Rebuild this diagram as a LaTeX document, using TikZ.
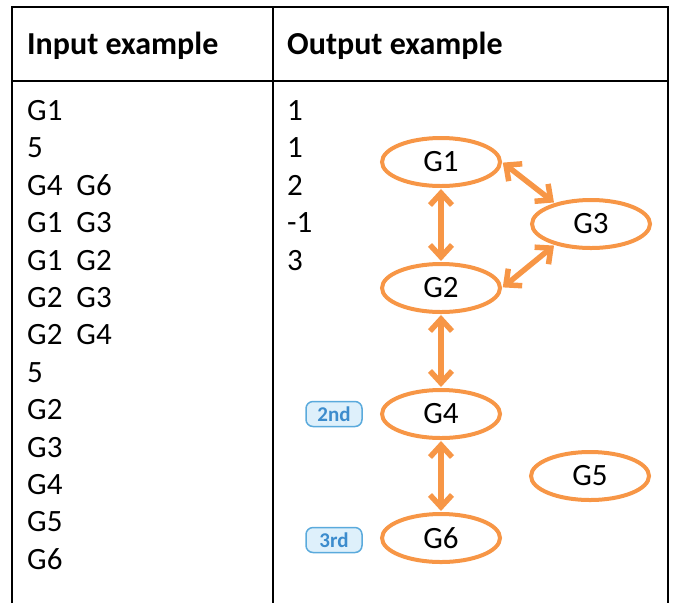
\documentclass[tikz,border=0pt]{standalone}
\usepackage{fontspec}
\setmainfont{Carlito}
\usetikzlibrary{arrows.meta,shapes.geometric}
\definecolor{grporange}{RGB}{247,150,70}
\definecolor{badgefill}{RGB}{222,240,251}
\definecolor{badgeline}{RGB}{90,170,220}
\definecolor{badgetext}{RGB}{60,140,205}
\tikzset{
  grp/.style={ellipse,draw=grporange,line width=4pt,minimum width=118pt,
    minimum height=48pt,inner sep=0pt,font=\fontsize{31}{31}\selectfont},
  link/.style={draw=grporange,line width=5.5pt,
    {Straight Barb[length=12pt,width=22pt]}-{Straight Barb[length=12pt,width=22pt]}},
  badge/.style={draw=badgeline,fill=badgefill,line width=1.5pt,rounded corners=7pt,
    text=badgetext,font=\fontsize{21}{21}\selectfont\bfseries,minimum width=56pt,
    minimum height=25pt,inner sep=1pt},
  cell/.style={anchor=base west,inner sep=0pt,font=\fontsize{31}{31}\selectfont},
  head/.style={anchor=base west,inner sep=0pt,font=\fontsize{32}{32}\selectfont\bfseries}
}
\begin{document}
\begin{tikzpicture}[x=1pt,y=-1pt]
  \useasboundingbox (0,0) rectangle (676,603);
  % table
  \draw[line width=2.5pt] (12,603) -- (12,7) -- (668,7) -- (668,603);
  \draw[line width=2.5pt] (12,81) -- (668,81);
  \draw[line width=2.5pt] (273,7) -- (273,603);
  \node[head] (hin) at (27,54) {Input example};
  \node[head] (hout) at (287,54) {Output example};
  % input column
  \foreach \txt [count=\i] in {G1,5,G4\ \ G6,G1\ \ G3,G1\ \ G2,G2\ \ G3,G2\ \ G4,5,G2,G3,G4,G5,G6}
    \node[cell] (in\i) at (27,{83+37.4*\i}) {\txt};
  % output column
  \foreach \txt [count=\i] in {1,1,2,-1,3}
    \node[cell] (out\i) at (287,{83+37.4*\i}) {\txt};
  % graph
  \node[grp] (g1) at (441,162) {G1};
  \node[grp] (g2) at (441,288) {G2};
  \node[grp] (g3) at (591,224) {G3};
  \node[grp] (g4) at (441,414) {G4};
  \node[grp] (g5) at (590,476) {G5};
  \node[grp] (g6) at (441,538) {G6};
  \node[badge] (b2) at (334,414) {2nd};
  \node[badge] (b3) at (334,540) {3rd};
  \begin{scope}[shorten <=1pt,shorten >=1pt]
    \draw[link] (g1) -- (g2);
    \draw[link] (g2) -- (g4);
    \draw[link] (g4) -- (g6);
    \draw[link] (g1.east) -- (g3.150);
    \draw[link] (g2.east) -- (g3.210);
  \end{scope}
\end{tikzpicture}
\end{document}
